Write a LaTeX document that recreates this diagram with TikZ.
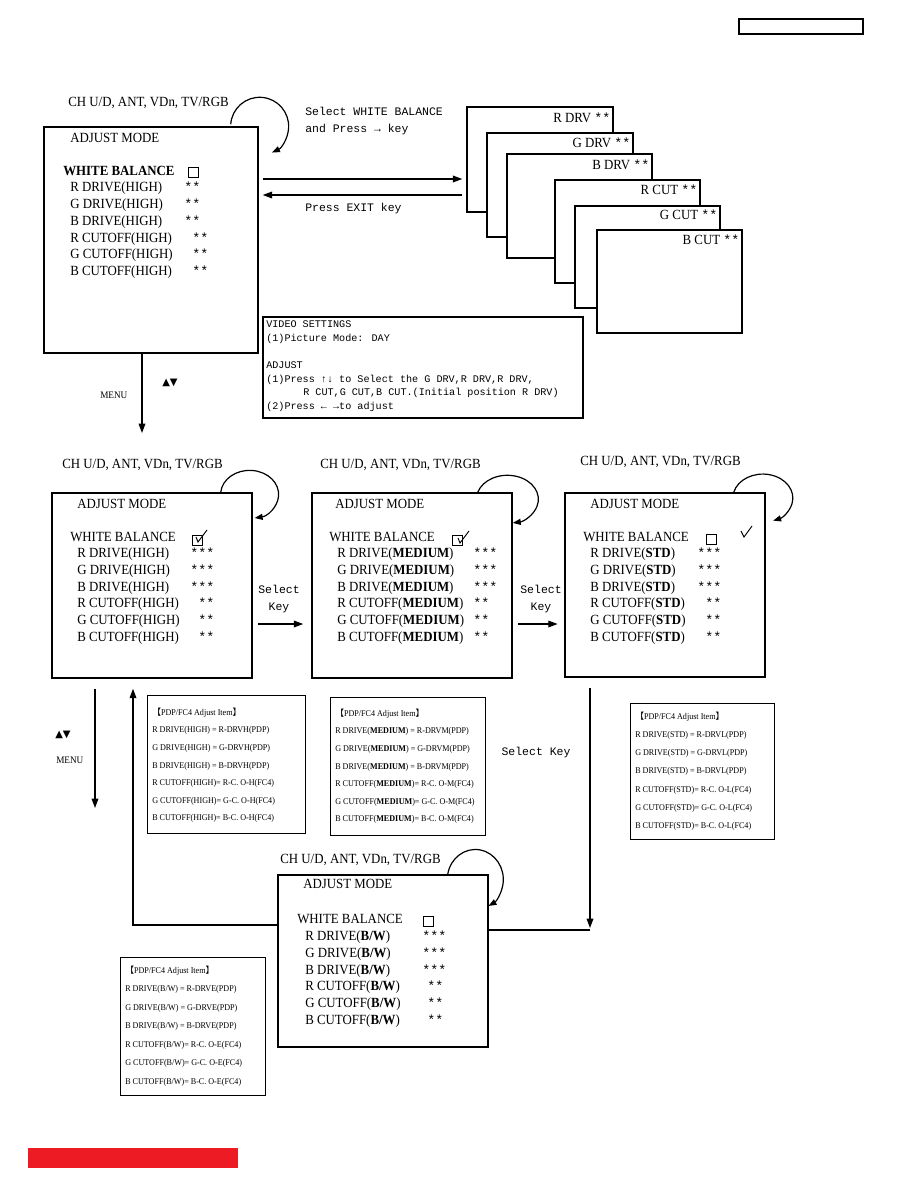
\documentclass[tikz,border=0pt]{standalone}
\usepackage{fontspec}
\setmainfont{Liberation Serif}[FakeStretch=0.92]
\newfontfamily\monofont{Liberation Mono}
\newfontfamily\symfont{DejaVu Sans}
\newfontfamily\cjkfont{Noto Sans CJK SC}
\usetikzlibrary{positioning, fit, calc, arrows.meta}

\definecolor{barred}{RGB}{237,28,36}
\newcommand{\itemopen}{{\cjkfont 【}}
\newcommand{\itemclose}{{\cjkfont 】}}
\newcommand{\starmark}[1]{{\monofont\fontsize{10}{12}\selectfont #1}}

\begin{document}
\begin{tikzpicture}[
  x=0.75pt, y=-0.75pt,
  box/.style={draw, line width=1.1pt, inner sep=0pt, fill=white},
  itembox/.style={draw, line width=0.7pt, inner sep=0pt},
  menutxt/.style={anchor=west, inner sep=0pt, font=\fontsize{10.5}{12}\selectfont,
    text height=7.5pt, text depth=2pt},
  valtxt/.style={anchor=west, inner sep=0pt, font=\monofont\fontsize{10}{12}\selectfont,
    text height=7.5pt, text depth=2pt},
  monotxt/.style={anchor=west, inner sep=0pt, font=\monofont\fontsize{8.6}{10}\selectfont,
    text height=6pt, text depth=1.5pt},
  infotxt/.style={anchor=west, inner sep=0pt, font=\monofont\fontsize{7.6}{9}\selectfont,
    text height=5.5pt, text depth=1.5pt},
  itemtxt/.style={anchor=west, inner sep=0pt, font=\fontsize{6.6}{8}\selectfont,
    text height=5pt, text depth=1.5pt},
  chkbox/.style={draw, line width=0.7pt, minimum size=7.5pt, inner sep=0pt},
  looparrow/.style={line width=0.9pt, -{Triangle[length=6pt,width=4.5pt]}},
  >={Triangle[length=7pt,width=5pt]},
  flow/.style={line width=0.9pt, ->}
]
\useasboundingbox (0,0) rectangle (918,1188);

% page tag and bar
\node[draw, line width=1.4pt, inner sep=0pt, fit={(739,19) (863,34)}] (pageTag) {};
\node[fill=barred, inner sep=0pt, fit={(28,1148) (238,1168)}] (redBar) {};

% ADJUST MODE (white balance)
\node[box, fit={(44,127) (258,353)}] (A) {};
\node[menutxt] (A-title) at (68,103) {CH U/D, ANT, VDn, TV/RGB};
\node[menutxt] (A-head) at (70,139) {ADJUST MODE};
\node[menutxt, font=\fontsize{10.5}{12}\selectfont\bfseries] (A-wb) at (63,172) {WHITE BALANCE};
\node[chkbox] (A-chk) at (193,172) {};
\foreach \t/\v/\x [count=\i] in {R DRIVE(HIGH)/**/184, G DRIVE(HIGH)/**/184, B DRIVE(HIGH)/**/184,
    R CUTOFF(HIGH)/**/192, G CUTOFF(HIGH)/**/192, B CUTOFF(HIGH)/**/192} {
  \node[menutxt] (A-l\i) at (70,{188+16.8*(\i-1)}) {\t};
  \node[valtxt] (A-v\i) at (\x,{188+16.8*(\i-1)}) {\v};
}
\draw[looparrow] ($(A.north east)+(-28,-2)$) arc[start angle=184, end angle=425, x radius=29, y radius=29];

% single adjust screens
\node[box, fit={(467,107) (613,212)}] (drvR) {};
\node[menutxt, anchor=east] (drvR-t) at ($(drvR.north east)+(-3,13)$) {R DRV \starmark{**}};
\node[box, fit={(487,133) (633,237)}] (drvG) {};
\node[menutxt, anchor=east] (drvG-t) at ($(drvG.north east)+(-3,12)$) {G DRV \starmark{**}};
\node[box, fit={(507,154) (652,258)}] (drvB) {};
\node[menutxt, anchor=east] (drvB-t) at ($(drvB.north east)+(-3,13)$) {B DRV \starmark{**}};
\node[box, fit={(555,180) (700,283)}] (cutR) {};
\node[menutxt, anchor=east] (cutR-t) at ($(cutR.north east)+(-3,12)$) {R CUT \starmark{**}};
\node[box, fit={(575,206) (720,308)}] (cutG) {};
\node[menutxt, anchor=east] (cutG-t) at ($(cutG.north east)+(-3,11)$) {G CUT \starmark{**}};
\node[box, fit={(597,230) (742,333)}] (cutB) {};
\node[menutxt, anchor=east] (cutB-t) at ($(cutB.north east)+(-3,12)$) {B CUT \starmark{**}};

\node[monotxt] (selWB) at (305,112) {Select WHITE BALANCE};
\node[monotxt] (selPress) at (305,129) {and Press → key};
\node[monotxt] (exitKey) at (305,208) {Press EXIT key};
\draw[flow, shorten <=3pt, shorten >=3pt] (A.east |- 0,179) -- (drvR.west |- 0,179);
\draw[flow, shorten <=3pt, shorten >=3pt] (drvR.west |- 0,195) -- (A.east |- 0,195);

% video settings note
\node[itembox, line width=0.9pt, fit={(263,317) (583,418)}] (video) {};
\node[infotxt] (video-1) at (266,325) {VIDEO SETTINGS};
\node[infotxt] (video-2) at (266,339) {(1)Picture Mode: DAY};
\node[infotxt] (video-3) at (266,366) {ADJUST};
\node[infotxt] (video-4) at (266,380) {(1)Press ↑↓ to Select the G DRV,R DRV,R DRV,};
\node[infotxt] (video-5) at (303,393) {R CUT,G CUT,B CUT.(Initial position R DRV)};
\node[infotxt] (video-6) at (266,407) {(2)Press ← →to adjust};

\coordinate (menuTip) at (142,433);
\draw[flow] (A.south -| menuTip) -- (menuTip);
\node[menutxt, font=\fontsize{7.5}{9}\selectfont] (menu1) at (100,395) {MENU};
\node[anchor=west, inner sep=0pt, font=\symfont\fontsize{7.5}{9}\selectfont] (updn1) at (162,383) {▲▼};

% ADJUST MODE (HIGH)
\node[box, fit={(52,493) (252,678)}] (C1) {};
\node[menutxt] (C1-title) at (62,465) {CH U/D, ANT, VDn, TV/RGB};
\node[menutxt] (C1-head) at (77,505) {ADJUST MODE};
\node[menutxt] (C1-wb) at (70,538) {WHITE BALANCE};
\node[chkbox] (C1-chk) at (197,540) {};
\draw[line width=0.7pt] ([shift={(-1,-3)}]C1-chk.center) -- ++(2,5) -- ++(9,-12);
\foreach \t/\v/\x [count=\i] in {R DRIVE(HIGH)/***/190, G DRIVE(HIGH)/***/190, B DRIVE(HIGH)/***/190,
    R CUTOFF(HIGH)/**/198, G CUTOFF(HIGH)/**/198, B CUTOFF(HIGH)/**/198} {
  \node[menutxt] (C1-l\i) at (77,{554+16.7*(\i-1)}) {\t};
  \node[valtxt] (C1-v\i) at (\x,{554+16.7*(\i-1)}) {\v};
}
\draw[looparrow] ($(C1.north east)+(-32,0)$) arc[start angle=185, end angle=440, x radius=29, y radius=24];

% ADJUST MODE (MEDIUM)
\node[box, fit={(312,493) (512,678)}] (C2) {};
\node[menutxt] (C2-title) at (320,465) {CH U/D, ANT, VDn, TV/RGB};
\node[menutxt] (C2-head) at (335,505) {ADJUST MODE};
\node[menutxt] (C2-wb) at (329,538) {WHITE BALANCE};
\node[chkbox] (C2-chk) at (457,540) {};
\draw[line width=0.7pt] ([shift={(1,-2)}]C2-chk.center) -- ++(2,5) -- ++(9,-12);
\foreach \t/\v [count=\i] in {R DRIVE(\textbf{MEDIUM})/***, G DRIVE(\textbf{MEDIUM})/***, B DRIVE(\textbf{MEDIUM})/***,
    R CUTOFF(\textbf{MEDIUM})/**, G CUTOFF(\textbf{MEDIUM})/**, B CUTOFF(\textbf{MEDIUM})/**} {
  \node[menutxt] (C2-l\i) at (337,{554+16.7*(\i-1)}) {\t};
  \node[valtxt] (C2-v\i) at (473,{554+16.7*(\i-1)}) {\v};
}
\draw[looparrow] ($(C2.north east)+(-35,0)$) arc[start angle=197, end angle=440, x radius=31, y radius=24];

% ADJUST MODE (STD)
\node[box, fit={(565,493) (765,677)}] (C3) {};
\node[menutxt] (C3-title) at (580,462) {CH U/D, ANT, VDn, TV/RGB};
\node[menutxt] (C3-head) at (590,505) {ADJUST MODE};
\node[menutxt] (C3-wb) at (583,538) {WHITE BALANCE};
\node[chkbox] (C3-chk) at (711,539) {};
\draw[line width=0.7pt] ([shift={(30,-8)}]C3-chk.center) -- ++(3,6) -- ++(8,-11);
\foreach \t/\v/\x [count=\i] in {R DRIVE(\textbf{STD})/***/697, G DRIVE(\textbf{STD})/***/697, B DRIVE(\textbf{STD})/***/697,
    R CUTOFF(\textbf{STD})/**/705, G CUTOFF(\textbf{STD})/**/705, B CUTOFF(\textbf{STD})/**/705} {
  \node[menutxt] (C3-l\i) at (590,{554+16.7*(\i-1)}) {\t};
  \node[valtxt] (C3-v\i) at (\x,{554+16.7*(\i-1)}) {\v};
}
\draw[looparrow] ($(C3.north east)+(-32,0)$) arc[start angle=194, end angle=430, x radius=30, y radius=24];

% Select Key arrows
\node[monotxt, anchor=center] (sel1) at (279,590) {Select};
\node[monotxt, anchor=center] (key1) at (279,607) {Key};
\draw[flow, shorten <=4pt, shorten >=6pt] (C1.east |- 0,624) -- (C2.west |- 0,624);
\node[monotxt, anchor=center] (sel2) at (541,590) {Select};
\node[monotxt, anchor=center] (key2) at (541,607) {Key};
\draw[flow, shorten <=4pt, shorten >=5pt] (C2.east |- 0,624) -- (C3.west |- 0,624);
\node[monotxt, anchor=center] (sel3) at (536,752) {Select Key};

% adjust item tables
\node[itembox, fit={(147,695) (305,833)}] (D1) {};
\foreach \t [count=\i] in {\itemopen PDP/FC4 Adjust Item\itemclose,
    R DRIVE(HIGH) = R-DRVH(PDP), G DRIVE(HIGH) = G-DRVH(PDP), B DRIVE(HIGH) = B-DRVH(PDP),
    R CUTOFF(HIGH)= R-C. O-H(FC4), G CUTOFF(HIGH)= G-C. O-H(FC4), B CUTOFF(HIGH)= B-C. O-H(FC4)} {
  \node[itemtxt] (D1-l\i) at (152,{713+17.6*(\i-1)}) {\t};
}
\node[itembox, fit={(330,697) (485,835)}] (D2) {};
\foreach \t [count=\i] in {\itemopen PDP/FC4 Adjust Item\itemclose,
    R DRIVE(\textbf{MEDIUM}) = R-DRVM(PDP), G DRIVE(\textbf{MEDIUM}) = G-DRVM(PDP), B DRIVE(\textbf{MEDIUM}) = B-DRVM(PDP),
    R CUTOFF(\textbf{MEDIUM})= R-C. O-M(FC4), G CUTOFF(\textbf{MEDIUM})= G-C. O-M(FC4), B CUTOFF(\textbf{MEDIUM})= B-C. O-M(FC4)} {
  \node[itemtxt] (D2-l\i) at (335,{714+17.6*(\i-1)}) {\t};
}
\node[itembox, fit={(630,703) (774,839)}] (D3) {};
\foreach \t [count=\i] in {\itemopen PDP/FC4 Adjust Item\itemclose,
    R DRIVE(STD) = R-DRVL(PDP), G DRIVE(STD) = G-DRVL(PDP), B DRIVE(STD) = B-DRVL(PDP),
    R CUTOFF(STD)= R-C. O-L(FC4), G CUTOFF(STD)= G-C. O-L(FC4), B CUTOFF(STD)= B-C. O-L(FC4)} {
  \node[itemtxt] (D3-l\i) at (635,{717+18.2*(\i-1)}) {\t};
}
\node[itembox, fit={(120,957) (265,1095)}] (D4) {};
\foreach \t [count=\i] in {\itemopen PDP/FC4 Adjust Item\itemclose,
    R DRIVE(B/W) = R-DRVE(PDP), G DRIVE(B/W) = G-DRVE(PDP), B DRIVE(B/W) = B-DRVE(PDP),
    R CUTOFF(B/W)= R-C. O-E(FC4), G CUTOFF(B/W)= G-C. O-E(FC4), B CUTOFF(B/W)= B-C. O-E(FC4)} {
  \node[itemtxt] (D4-l\i) at (125,{971+18.5*(\i-1)}) {\t};
}

% ADJUST MODE (B/W)
\node[box, fit={(278,875) (488,1047)}] (E) {};
\node[menutxt] (E-title) at (280,860) {CH U/D, ANT, VDn, TV/RGB};
\node[menutxt] (E-head) at (303,885) {ADJUST MODE};
\node[menutxt] (E-wb) at (297,920) {WHITE BALANCE};
\node[chkbox] (E-chk) at (428,921) {};
\foreach \t/\v/\x [count=\i] in {R DRIVE(\textbf{B/W})/***/422, G DRIVE(\textbf{B/W})/***/422, B DRIVE(\textbf{B/W})/***/422,
    R CUTOFF(\textbf{B/W})/**/427, G CUTOFF(\textbf{B/W})/**/427, B CUTOFF(\textbf{B/W})/**/427} {
  \node[menutxt] (E-l\i) at (305,{937+16.7*(\i-1)}) {\t};
  \node[valtxt] (E-v\i) at (\x,{937+16.7*(\i-1)}) {\v};
}
\draw[looparrow] ($(E.north east)+(-41,0)$) arc[start angle=190, end angle=422, x radius=28, y radius=30];

% MENU from HIGH, back from B/W, STD to B/W
\coordinate (menuTip2) at (95,808);
\draw[flow, shorten <=7.5pt] (C1.south -| menuTip2) -- (menuTip2);
\node[anchor=west, inner sep=0pt, font=\symfont\fontsize{7.5}{9}\selectfont] (updn2) at (55,735) {▲▼};
\node[menutxt, font=\fontsize{7.5}{9}\selectfont] (menu2) at (56,760) {MENU};

\coordinate (bwCorner) at (133,925);
\draw[flow, shorten >=7.5pt] (E.west |- bwCorner) -- (bwCorner) -- (bwCorner |- C1.south);

\coordinate (stdCorner) at (590,930);
\draw[flow, shorten <=8pt] (C3.south -| stdCorner) -- ([yshift=1.5pt]stdCorner);
\draw[line width=0.9pt] (E.east |- stdCorner) -- (stdCorner);

\end{tikzpicture}
\end{document}
